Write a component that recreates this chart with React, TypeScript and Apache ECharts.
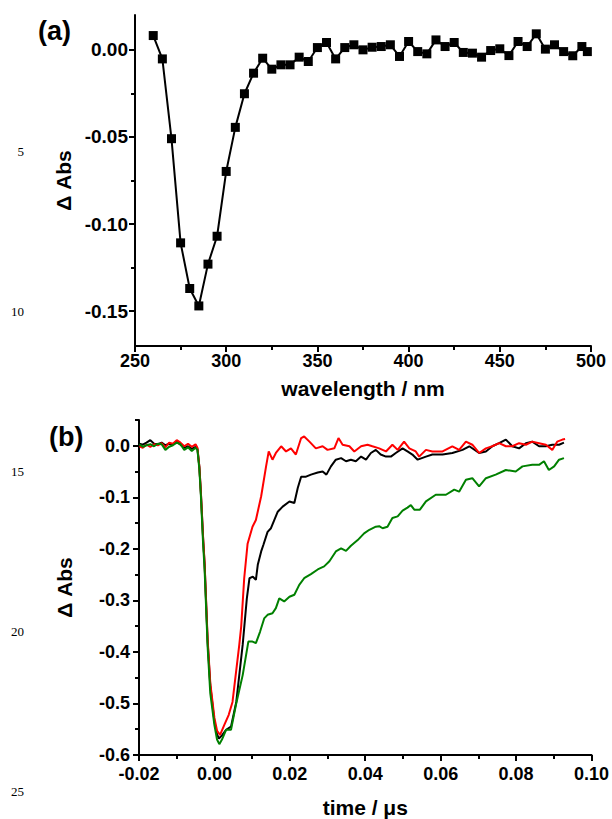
import React, { useEffect, useRef } from "react";
import * as echarts from "echarts";

// ---------- (a) transient spectrum ----------
const wavelengths = [
  260, 265, 270, 275, 280, 285, 290, 295, 300, 305, 310, 315, 320, 325, 330, 335,
  340, 345, 350, 355, 360, 365, 370, 375, 380, 385, 390, 395, 400, 405, 410, 415,
  420, 425, 430, 435, 440, 445, 450, 455, 460, 465, 470, 475, 480, 485, 490, 495, 498,
];
const deltaAbsSpectrum = [
  0.0082, -0.0052, -0.051, -0.1108, -0.137, -0.147, -0.123, -0.107, -0.0698, -0.0445,
  -0.0252, -0.0134, -0.0048, -0.0111, -0.0086, -0.0086, -0.0042, -0.0067, 0.0013, 0.0042,
  -0.0052, 0.0013, 0.0029, 0.0, 0.0015, 0.0019, 0.0029, -0.0038, 0.0048, -0.001,
  -0.0023, 0.0057, 0.0019, 0.0042, -0.0015, -0.0019, -0.0042, -0.0004, 0.0006, -0.0033,
  0.0048, 0.0019, 0.0092, 0.0004, 0.0029, -0.001, -0.0034, 0.0019, -0.001,
];
const topXTicks = { min: 250, max: 500, step: 50 };
const topYLabels = [-0.15, -0.1, -0.05, 0.0];
const topYMinor = [-0.125, -0.075, -0.025];

// ---------- (b) kinetic traces [time (µs), ΔAbs] ----------
const traceBlack = [
  [-0.0199, 0.004], [-0.019, 0.002], [-0.018, 0.006], [-0.017, 0.011], [-0.016, 0.004],
  [-0.015, 0.003], [-0.014, 0.006], [-0.013, 0.001], [-0.012, 0.004], [-0.011, 0.003],
  [-0.01, 0.008], [-0.009, 0.002], [-0.008, -0.004], [-0.007, -0.001], [-0.006, -0.006],
  [-0.005, -0.002], [-0.0045, -0.006], [-0.004, -0.04], [-0.0036, -0.09], [-0.003, -0.18],
  [-0.0026, -0.23], [-0.0018, -0.38], [-0.0011, -0.465], [0.0, -0.535], [0.0007, -0.56],
  [0.0012, -0.568], [0.002, -0.562], [0.0031, -0.551], [0.0044, -0.545], [0.0058, -0.497],
  [0.0075, -0.386], [0.0086, -0.296], [0.0093, -0.257], [0.0102, -0.254], [0.011, -0.26],
  [0.0115, -0.231], [0.0124, -0.205], [0.013, -0.192], [0.0141, -0.167], [0.015, -0.16],
  [0.0159, -0.144], [0.0168, -0.128], [0.0181, -0.118], [0.0199, -0.108], [0.0212, -0.111],
  [0.0221, -0.082], [0.023, -0.06], [0.0243, -0.06], [0.0256, -0.056], [0.0274, -0.052],
  [0.0287, -0.05], [0.0297, -0.056], [0.0309, -0.04], [0.0322, -0.027], [0.0336, -0.024],
  [0.0349, -0.03], [0.0362, -0.027], [0.0375, -0.03], [0.0389, -0.021], [0.0402, -0.027],
  [0.0415, -0.014], [0.0428, -0.008], [0.0441, -0.017], [0.0455, -0.021], [0.0468, -0.021],
  [0.0481, -0.014], [0.0499, -0.005], [0.0512, -0.011], [0.0525, -0.017], [0.0539, -0.027],
  [0.0561, -0.021], [0.0578, -0.017], [0.0605, -0.017], [0.0631, -0.014], [0.0658, -0.008],
  [0.0676, -0.001], [0.0702, -0.014], [0.072, -0.011], [0.0737, -0.001], [0.0755, 0.005],
  [0.0773, 0.012], [0.079, -0.001], [0.0808, -0.005], [0.0826, 0.005], [0.0843, 0.008],
  [0.0861, -0.001], [0.0879, -0.001], [0.0896, 0.002], [0.0914, 0.002], [0.0927, 0.006],
];
const traceRed = [
  [-0.0199, -0.001], [-0.019, -0.004], [-0.018, 0.002], [-0.017, -0.002], [-0.016, 0.003],
  [-0.015, 0.001], [-0.014, 0.005], [-0.013, -0.003], [-0.012, 0.006], [-0.011, 0.004],
  [-0.01, 0.011], [-0.009, 0.006], [-0.008, -0.001], [-0.007, 0.004], [-0.006, -0.002],
  [-0.005, 0.003], [-0.0045, -0.004], [-0.004, -0.04], [-0.0036, -0.088], [-0.003, -0.178],
  [-0.0026, -0.228], [-0.0018, -0.375], [-0.0011, -0.46], [0.0, -0.528], [0.0007, -0.553],
  [0.0015, -0.561], [0.0026, -0.542], [0.0038, -0.522], [0.0048, -0.497], [0.0066, -0.386],
  [0.0071, -0.351], [0.0079, -0.257], [0.0088, -0.19], [0.0101, -0.157], [0.011, -0.144],
  [0.0124, -0.098], [0.0137, -0.04], [0.0144, -0.011], [0.0154, -0.027], [0.0163, -0.014],
  [0.0177, -0.001], [0.019, -0.011], [0.0203, -0.005], [0.0216, -0.017], [0.023, 0.015],
  [0.0238, 0.018], [0.0252, 0.008], [0.0269, -0.005], [0.0287, -0.001], [0.03, -0.008],
  [0.0318, -0.005], [0.0329, 0.015], [0.034, 0.002], [0.0358, -0.001], [0.0371, -0.011],
  [0.0389, -0.001], [0.0406, 0.002], [0.0419, -0.001], [0.0437, -0.005], [0.0455, -0.011],
  [0.0472, 0.002], [0.0486, -0.008], [0.0503, 0.008], [0.0517, -0.005], [0.0534, -0.011],
  [0.0543, -0.021], [0.0561, -0.008], [0.0578, -0.011], [0.0605, -0.011], [0.0631, -0.001],
  [0.0649, -0.008], [0.0667, 0.008], [0.0684, 0.002], [0.0702, -0.014], [0.072, -0.005],
  [0.0737, -0.001], [0.0755, 0.005], [0.0773, -0.001], [0.079, -0.001], [0.0808, 0.005],
  [0.0826, 0.002], [0.0843, 0.008], [0.0861, 0.005], [0.0879, 0.002], [0.0896, -0.008],
  [0.0909, 0.008], [0.0923, 0.012], [0.093, 0.013],
];
const traceGreen = [
  [-0.0199, 0.003], [-0.019, -0.002], [-0.018, 0.001], [-0.017, 0.003], [-0.016, -0.001],
  [-0.015, 0.004], [-0.014, 0.003], [-0.013, -0.008], [-0.012, -0.002], [-0.011, 0.001],
  [-0.01, 0.006], [-0.009, 0.003], [-0.008, -0.008], [-0.007, -0.003], [-0.006, -0.01],
  [-0.005, -0.004], [-0.0045, -0.008], [-0.004, -0.045], [-0.0036, -0.095], [-0.003, -0.19],
  [-0.0026, -0.24], [-0.0018, -0.39], [-0.0011, -0.48], [0.0, -0.542], [0.0007, -0.57],
  [0.0013, -0.579], [0.002, -0.57], [0.0031, -0.551], [0.0044, -0.551], [0.0057, -0.503],
  [0.0075, -0.445], [0.009, -0.38], [0.0101, -0.38], [0.011, -0.383], [0.0121, -0.361],
  [0.0132, -0.335], [0.0141, -0.328], [0.0154, -0.325], [0.0163, -0.315], [0.0172, -0.296],
  [0.0185, -0.302], [0.0199, -0.293], [0.0212, -0.289], [0.0225, -0.27], [0.0238, -0.257],
  [0.0256, -0.249], [0.0274, -0.24], [0.0291, -0.234], [0.0305, -0.224], [0.0322, -0.205],
  [0.0336, -0.199], [0.0349, -0.204], [0.0362, -0.194], [0.038, -0.183], [0.0397, -0.17],
  [0.0411, -0.163], [0.0428, -0.157], [0.0437, -0.156], [0.0446, -0.16], [0.0459, -0.157],
  [0.0472, -0.14], [0.0486, -0.137], [0.0499, -0.126], [0.0512, -0.12], [0.0521, -0.115],
  [0.053, -0.124], [0.0545, -0.124], [0.0561, -0.108], [0.0587, -0.095], [0.0614, -0.095],
  [0.0636, -0.085], [0.0649, -0.089], [0.0667, -0.066], [0.0684, -0.063], [0.0702, -0.079],
  [0.072, -0.063], [0.0746, -0.056], [0.0773, -0.047], [0.0799, -0.05], [0.0817, -0.04],
  [0.0843, -0.037], [0.0861, -0.037], [0.0874, -0.03], [0.0887, -0.047], [0.0901, -0.04],
  [0.0914, -0.027], [0.0927, -0.024],
];
const bottomXTicks = { min: -0.02, max: 0.1, step: 0.02 };
const bottomYLabels = [-0.6, -0.5, -0.4, -0.3, -0.2, -0.1, 0.0];
const bottomYMinor = [-0.55, -0.45, -0.35, -0.25, -0.15, -0.05, 0.05];

const panelLabels = ["(a)", "(b)"];
const lineNumbers = ["5", "10", "15", "20", "25"];

const FONT = "'Liberation Sans', Arial, sans-serif";

export default function App() {
  const ref = useRef<HTMLDivElement>(null);

  useEffect(() => {
    if (!ref.current) return;
    const chart = echarts.init(ref.current, null, { renderer: "svg" });

    const labelStyle = { fontFamily: FONT, fontWeight: "bold", fontSize: 18, color: "#000" };
    const nameStyle = { fontFamily: FONT, fontWeight: "bold", fontSize: 21, color: "#000" };
    const axisLine = { show: true, onZero: false, lineStyle: { color: "#000", width: 2 } };

    const minorYAxis = (gridIndex: number, min: number, max: number, vals: number[]) => ({
      type: "value",
      gridIndex,
      min,
      max,
      position: "left",
      axisLine: { show: false, onZero: false },
      axisLabel: { show: false },
      splitLine: { show: false },
      axisTick: {
        show: true,
        inside: false,
        length: 4,
        customValues: vals,
        lineStyle: { color: "#000", width: 2 },
      },
    });

    const lineNumberY = [151, 311.5, 471.5, 631.5, 791.5];

    chart.setOption({
      animation: false,
      backgroundColor: "#fff",
      grid: [
        { left: 135, top: 15, width: 456, height: 331, containLabel: false },
        { left: 139, top: 420, width: 454, height: 335, containLabel: false },
      ],
      xAxis: [
        {
          type: "value",
          gridIndex: 0,
          min: topXTicks.min,
          max: topXTicks.max,
          interval: topXTicks.step,
          axisLine,
          axisTick: { show: true, length: 6, lineStyle: { color: "#000", width: 2 } },
          minorTick: { show: true, splitNumber: 2, length: 4, lineStyle: { color: "#000", width: 2 } },
          splitLine: { show: false },
          axisLabel: { ...labelStyle, margin: 6, formatter: (v: number) => String(Math.round(v)) },
          name: "wavelength / nm",
          nameLocation: "middle",
          nameGap: 32,
          nameTextStyle: nameStyle,
        },
        {
          type: "value",
          gridIndex: 1,
          min: bottomXTicks.min,
          max: bottomXTicks.max,
          interval: bottomXTicks.step,
          axisLine,
          axisTick: { show: true, length: 6, lineStyle: { color: "#000", width: 2 } },
          minorTick: { show: true, splitNumber: 2, length: 4, lineStyle: { color: "#000", width: 2 } },
          splitLine: { show: false },
          axisLabel: { ...labelStyle, margin: 10, formatter: (v: number) => v.toFixed(2) },
          name: "time / \u03bcs",
          nameLocation: "middle",
          nameGap: 42,
          nameTextStyle: nameStyle,
        },
      ],
      yAxis: [
        {
          type: "value",
          gridIndex: 0,
          min: -0.17,
          max: 0.02,
          position: "left",
          axisLine,
          axisTick: {
            show: true,
            length: 6,
            customValues: topYLabels,
            lineStyle: { color: "#000", width: 2 },
          },
          splitLine: { show: false },
          axisLabel: {
            ...labelStyle,
            fontSize: 19,
            margin: 7,
            customValues: topYLabels,
            formatter: (v: number) => v.toFixed(2),
          },
          name: "\u0394 Abs",
          nameLocation: "middle",
          nameGap: 61,
          nameRotate: 90,
          nameTextStyle: nameStyle,
        },
        minorYAxis(0, -0.17, 0.02, topYMinor),
        {
          type: "value",
          gridIndex: 1,
          min: -0.6,
          max: 0.05,
          position: "left",
          axisLine,
          axisTick: {
            show: true,
            length: 6,
            customValues: bottomYLabels,
            lineStyle: { color: "#000", width: 2 },
          },
          splitLine: { show: false },
          axisLabel: {
            ...labelStyle,
            margin: 9,
            customValues: bottomYLabels,
            formatter: (v: number) => v.toFixed(1),
          },
          name: "\u0394 Abs",
          nameLocation: "middle",
          nameGap: 64,
          nameRotate: 90,
          nameTextStyle: nameStyle,
        },
        minorYAxis(1, -0.6, 0.05, bottomYMinor),
      ],
      series: [
        {
          type: "line",
          xAxisIndex: 0,
          yAxisIndex: 0,
          data: wavelengths.map((w, i) => [w, deltaAbsSpectrum[i]]),
          symbol: "rect",
          symbolSize: 9,
          showSymbol: true,
          itemStyle: { color: "#000" },
          lineStyle: { color: "#000", width: 2 },
        },
        {
          type: "line",
          xAxisIndex: 1,
          yAxisIndex: 2,
          data: traceBlack,
          showSymbol: false,
          lineStyle: { color: "#000", width: 2 },
        },
        {
          type: "line",
          xAxisIndex: 1,
          yAxisIndex: 2,
          data: traceRed,
          showSymbol: false,
          lineStyle: { color: "#ff0000", width: 2 },
        },
        {
          type: "line",
          xAxisIndex: 1,
          yAxisIndex: 2,
          data: traceGreen,
          showSymbol: false,
          lineStyle: { color: "#008000", width: 2 },
        },
      ],
      graphic: [
        {
          type: "text",
          x: 38,
          y: 31,
          style: {
            text: panelLabels[0],
            fontFamily: FONT,
            fontWeight: "bold",
            fontSize: 27,
            fill: "#000",
            textVerticalAlign: "middle",
          },
        },
        {
          type: "text",
          x: 49,
          y: 437,
          style: {
            text: panelLabels[1],
            fontFamily: FONT,
            fontWeight: "bold",
            fontSize: 27,
            fill: "#000",
            textVerticalAlign: "middle",
          },
        },
        ...lineNumbers.map((n, i) => ({
          type: "text",
          x: 24,
          y: lineNumberY[i],
          style: {
            text: n,
            fontFamily: "'Liberation Serif', 'Times New Roman', serif",
            fontSize: 13,
            fill: "#000",
            textAlign: "right",
            textVerticalAlign: "middle",
          },
        })),
      ],
    });

    return () => chart.dispose();
  }, []);

  return (
    <div
      ref={ref}
      style={{ position: "absolute", left: 0, top: 0, width: 612, height: 819 }}
    />
  );
}
